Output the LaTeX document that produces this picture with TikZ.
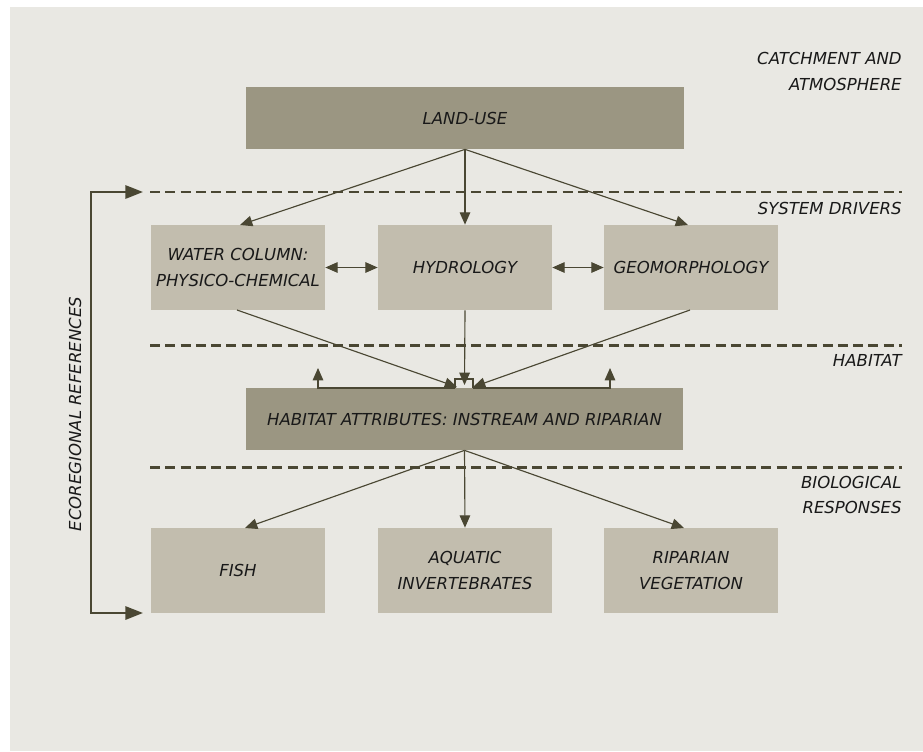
\documentclass[tikz,border=0pt]{standalone}
\usepackage{fontspec}
\setmainfont{DejaVu Sans}
\usepackage{tikz}
\usetikzlibrary{arrows.meta}

\definecolor{bgGrey}{HTML}{E9E8E3}
\definecolor{darkBox}{HTML}{9B9682}
\definecolor{lightBox}{HTML}{C2BDAE}
\definecolor{lineOlive}{HTML}{4A4733}

\begin{document}
\begin{tikzpicture}[x=0.02cm, y=-0.02cm,
  every node/.style={font=\fontsize{9.4}{14.8}\selectfont\itshape, text=black!90},
  bigbox/.style={fill=darkBox, minimum width=8.76cm, minimum height=1.24cm},
  smallbox/.style={fill=lightBox, minimum width=3.48cm, minimum height=1.7cm,
    inner sep=1pt, align=center},
  levellabel/.style={anchor=east, align=right, inner sep=0pt},
  flow/.style={draw=lineOlive, line width=0.65pt, -{Triangle[length=7pt,width=6pt]}},
  both/.style={draw=lineOlive, line width=0.65pt,
    {Triangle[length=7pt,width=6pt]}-{Triangle[length=7pt,width=6pt]}},
  level/.style={draw=lineOlive, line width=1.7pt, dash pattern=on 5.7pt off 3pt},
  ecoref/.style={draw=lineOlive, line width=1.3pt,
    {Triangle[length=10pt,width=7.5pt]}-{Triangle[length=10pt,width=7.5pt]}}]

  % background
  \useasboundingbox (0,0) rectangle (923,751);
  \fill[bgGrey] (10,7) rectangle (923,751);

  % levels
  \draw[level] (150,192) -- (902,192);
  \draw[level] (150,345) -- (902,345);
  \draw[level] (150,467) -- (902,467);

  \node[levellabel] (catch) at (902,71) {CATCHMENT AND\\ATMOSPHERE};
  \node[levellabel] (drivers) at (902,208) {SYSTEM DRIVERS};
  \node[levellabel] (hab) at (902,360) {HABITAT};
  \node[levellabel] (bio) at (902,495) {BIOLOGICAL\\[-1pt]RESPONSES};

  % boxes
  \node[bigbox] (landuse) at (465,118) {LAND-USE};
  \node[smallbox] (water) at (238,267.5) {WATER COLUMN:\\PHYSICO-CHEMICAL};
  \node[smallbox] (hydro) at (465,267.5) {HYDROLOGY};
  \node[smallbox] (geo) at (691,267.5) {GEOMORPHOLOGY};
  \node[bigbox] (habitat) at (464.5,419) {HABITAT ATTRIBUTES: INSTREAM AND RIPARIAN};
  \node[smallbox] (fish) at (238,570.5) {FISH};
  \node[smallbox] (invert) at (465,570.5) {AQUATIC\\INVERTEBRATES};
  \node[smallbox] (veg) at (691,570.5) {RIPARIAN\\VEGETATION};

  % ecoregional references
  \node[rotate=90] (eco) at (75,414) {ECOREGIONAL REFERENCES};
  \coordinate (ecoTop) at (143,192);
  \coordinate (ecoBot) at (143,613);
  \draw[ecoref] (ecoTop) -- (91,192) -- (91,613) -- (ecoBot);

  % land-use to drivers
  \draw[flow] (landuse.south) -- (240,225);
  \draw[flow] (landuse.south) -- (hydro.north);
  \draw[flow] (landuse.south) -- (688,225);
  \draw[both] (water.east) -- (hydro.west);
  \draw[both] (hydro.east) -- (geo.west);

  % drivers to habitat
  \draw[flow] (237,310) -- (457,387);
  \draw[flow] (hydro.south) -- (464.5,385);
  \draw[flow] (690,310) -- (473,387);

  % feedback from habitat
  \coordinate (fbLeft) at (318,368);
  \coordinate (fbRight) at (610,368);
  \draw[flow] (455,388) -- (318,388) -- (fbLeft);
  \draw[flow] (473,388) -- (610,388) -- (fbRight);
  \draw[lineOlive, line width=0.65pt] (455,388) -- (455,379) -- (473,379) -- (473,388);

  % habitat to responses
  \draw[flow] (habitat.south) -- (245,528);
  \draw[flow] (habitat.south) -- (invert.north);
  \draw[flow] (habitat.south) -- (684,528);
\end{tikzpicture}
\end{document}
